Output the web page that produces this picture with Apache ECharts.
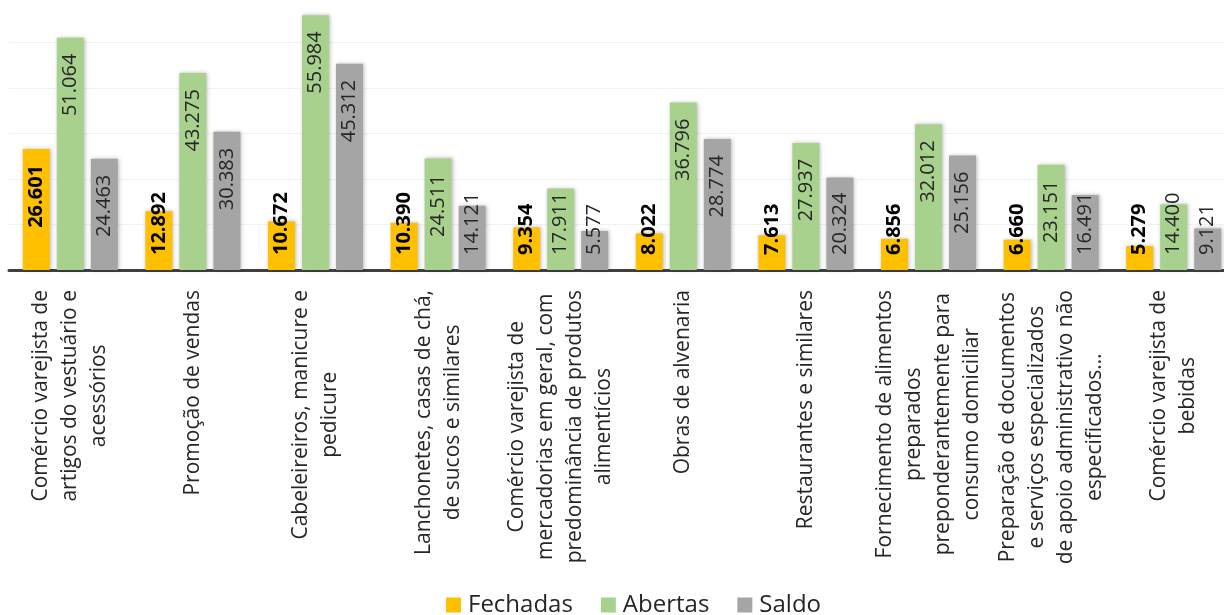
<!DOCTYPE html>
<html>
<head>
<meta charset="utf-8">
<script src="https://cdn.jsdelivr.net/npm/echarts@6/dist/echarts.min.js"></script>
<style>
  html, body { margin: 0; padding: 0; background: #ffffff; }
  #chart { width: 1224px; height: 615px; }
</style>
</head>
<body>
<div id="chart"></div>
<script>
const categories = [
  "Comércio varejista de\nartigos do vestuário e\nacessórios",
  "Promoção de vendas",
  "Cabeleireiros, manicure e\npedicure",
  "Lanchonetes, casas de chá,\nde sucos e similares",
  "Comércio varejista de\nmercadorias em geral, com\npredominância de produtos\nalimentícios",
  "Obras de alvenaria",
  "Restaurantes e similares",
  "Fornecimento de alimentos\npreparados\npreponderantemente para\nconsumo domiciliar",
  "Preparação de documentos\ne serviços especializados\nde apoio administrativo não\nespecificados…",
  "Comércio varejista de\nbebidas"
];
const fechadas = [26601, 12892, 10672, 10390, 9354, 8022, 7613, 6856, 6660, 5279];
const abertas  = [51064, 43275, 55984, 24511, 17911, 36796, 27937, 32012, 23151, 14400];
const saldo    = [24463, 30383, 45312, 14121, 8557, 28774, 20324, 25156, 16491, 9121];
// Data labels as printed on the original chart
const saldoLabels = ["24.463", "30.383", "45.312", "14.121", "5.577", "28.774", "20.324", "25.156", "16.491", "9.121"];

const FONT = "'Open Sans', 'Noto Sans', sans-serif";

function fmt(v) {
  return String(v).replace(/\B(?=(\d{3})+(?!\d))/g, ".");
}

function labelFor(value, bold, text) {
  const tall = value > 21500;
  return {
    show: true,
    position: tall ? 'insideTop' : 'insideBottom',
    rotate: 90,
    align: tall ? 'right' : 'left',
    verticalAlign: 'middle',
    distance: tall ? 16 : 15,
    fontFamily: FONT,
    fontSize: 20,
    fontWeight: bold ? 'bold' : 'normal',
    color: bold ? '#000000' : '#262626',
    formatter: text
  };
}

function buildData(values, bold, texts) {
  return values.map((v, i) => ({
    value: v,
    label: labelFor(v, bold, texts ? texts[i] : fmt(v))
  }));
}

const shadow = { shadowBlur: 4, shadowColor: 'rgba(0,0,0,0.28)', shadowOffsetX: 1, shadowOffsetY: 0 };

const chart = echarts.init(document.getElementById('chart'), null, { renderer: 'canvas' });
chart.setOption({
  animation: false,
  backgroundColor: '#ffffff',
  grid: { left: 9, top: -3, width: 1226, height: 273, containLabel: false, outerBoundsMode: 'none' },
  legend: {
    top: 588,
    left: 441,
    icon: 'rect',
    itemWidth: 15,
    itemHeight: 15,
    itemGap: 28,
    textStyle: { fontFamily: FONT, fontSize: 24, color: '#262626', padding: [0, 0, 0, 2] },
    data: ['Fechadas', 'Abertas', 'Saldo']
  },
  xAxis: {
    type: 'category',
    data: categories,
    axisLine: { show: true, lineStyle: { color: '#404040', width: 3 } },
    axisTick: { show: false },
    axisLabel: {
      interval: 0,
      rotate: 90,
      margin: 20,
      hideOverlap: false,
      color: '#262626',
      fontFamily: FONT,
      fontSize: 21,
      formatter: function (value) {
        return value.split('\n').map(l => '{c|' + l + '}').join('\n');
      },
      rich: {
        c: { align: 'center', fontFamily: FONT, fontSize: 21, lineHeight: 29, color: '#262626' }
      }
    }
  },
  yAxis: {
    type: 'value',
    min: 0,
    max: 60000,
    interval: 10000,
    axisLabel: { show: false },
    axisLine: { show: false },
    axisTick: { show: false },
    splitLine: { show: true, lineStyle: { color: '#f2f2f2', width: 1 } }
  },
  series: [
    {
      name: 'Fechadas', type: 'bar', barWidth: 27, barGap: '26%',
      itemStyle: Object.assign({ color: '#FFC000' }, shadow),
      data: buildData(fechadas, true)
    },
    {
      name: 'Abertas', type: 'bar', barWidth: 27, barGap: '26%',
      itemStyle: Object.assign({ color: '#A9D18E' }, shadow),
      data: buildData(abertas, false)
    },
    {
      name: 'Saldo', type: 'bar', barWidth: 27, barGap: '26%',
      itemStyle: Object.assign({ color: '#A5A5A5' }, shadow),
      data: buildData(saldo, false, saldoLabels)
    }
  ]
});
</script>
</body>
</html>
